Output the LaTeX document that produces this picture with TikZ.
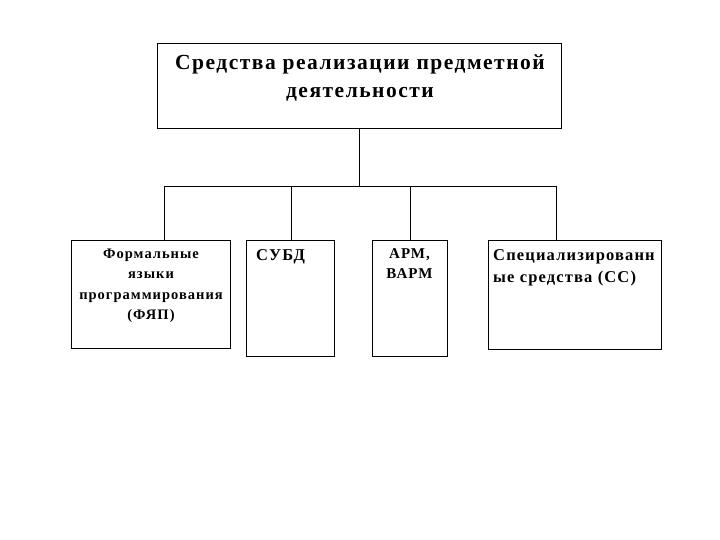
\documentclass[tikz,border=0pt]{standalone}
\usepackage{fontspec}
\setmainfont{Liberation Serif}[LetterSpace=7]
\begin{document}
\begin{tikzpicture}[x=1pt,y=-1pt,
  box/.style={draw,thick,inner sep=0pt},
  ln/.style={thick}]
\useasboundingbox (0,0) rectangle (720,540);
\node[box,minimum width=404pt,minimum height=85pt] (top) at (359,85.5) {};
\node[font=\bfseries\fontsize{21.5}{28}\selectfont,align=center] (tt) at (360,78) {Средства реализации предметной\\деятельности};
\node[box,minimum width=159pt,minimum height=108pt,anchor=north west] (b1) at (71,240) {};
\node[box,minimum width=88pt,minimum height=116pt,anchor=north west] (b2) at (246,240) {};
\node[box,minimum width=75pt,minimum height=116pt,anchor=north west] (b3) at (372,240) {};
\node[box,minimum width=173pt,minimum height=109pt,anchor=north west] (b4) at (488,240) {};
\node[font=\bfseries\fontsize{14.5}{20.5}\selectfont,align=center,anchor=north] (t1) at (151,245) {Формальные\\языки\\программирования\\(ФЯП)};
\node[font=\bfseries\fontsize{16.5}{22}\selectfont,anchor=north west,inner sep=0pt] (t2) at (256,249) {СУБД};
\node[font=\bfseries\fontsize{15}{20}\selectfont,align=center,anchor=north] (t3) at (409.5,245) {АРМ,\\ВАРМ};
\node[font=\bfseries\fontsize{16.5}{22}\selectfont,align=left,anchor=north west,inner sep=0pt] (t4) at (493,249) {Специализированн\\ые средства (СС)};
\coordinate (j) at (359,186);
\coordinate (l) at (164,186);
\coordinate (r) at (556,186);
\draw[ln] (top.south) -- (j);
\draw[ln] (l) -- (r);
\draw[ln] (l) -- (l |- b1.north);
\draw[ln] (291,186) -- (291,240);
\draw[ln] (410,186) -- (410,240);
\draw[ln] (r) -- (r |- b4.north);
\end{tikzpicture}
\end{document}
